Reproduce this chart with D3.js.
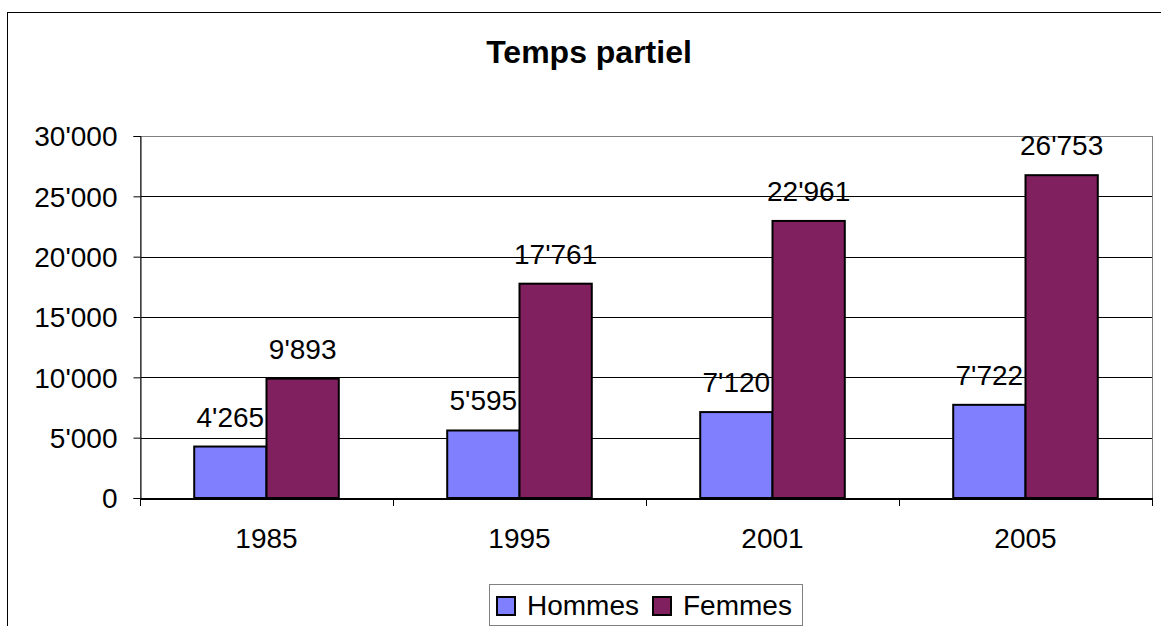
<!DOCTYPE html>
<html>
<head>
<meta charset="utf-8">
<script src="https://cdn.jsdelivr.net/npm/d3@7"></script>
<style>
  body { margin: 0; background: #fff; }
  text { font-family: Arial, "Liberation Sans", sans-serif; fill: #000; }
</style>
</head>
<body>
<div id="chart"></div>
<script>
var years = ["1985", "1995", "2001", "2005"];
var seriesNames = ["Hommes", "Femmes"];
var hommes = [4265, 5595, 7120, 7722];
var femmes = [9893, 17761, 22961, 26753];
var yTicks = [0, 5000, 10000, 15000, 20000, 25000, 30000];
var colors = {Hommes: "#8080ff", Femmes: "#80205e"};

var width = 1161, height = 626;
var plot = {left: 140, right: 1152, top: 136, bottom: 498};

var fr = d3.formatLocale({decimal: ".", thousands: "'", grouping: [3], currency: ["", ""]});
var fmt = fr.format(",");

var svg = d3.select("#chart").append("svg")
  .attr("width", width)
  .attr("height", height);

// outer frame (runs off the right and bottom edges)
svg.append("rect")
  .attr("x", 7.5).attr("y", 12.5)
  .attr("width", 1170).attr("height", 640)
  .attr("fill", "#fff").attr("stroke", "#000").attr("stroke-width", 1);

svg.append("text")
  .attr("x", 589).attr("y", 63)
  .attr("text-anchor", "middle")
  .style("font-size", "32px").style("font-weight", "bold")
  .text("Temps partiel");

var x = d3.scaleBand().domain(years).range([plot.left, plot.right]);
var x1 = d3.scaleBand().domain(seriesNames).range([0, x.bandwidth()])
  .paddingInner(0).paddingOuter(0.75);
var y = d3.scaleLinear().domain([0, 30000]).range([plot.bottom, plot.top]);

// gridlines
svg.append("g").selectAll("line")
  .data(yTicks.filter(function(d){ return d > 0 && d < 30000; }))
  .enter().append("line")
  .attr("x1", plot.left).attr("x2", plot.right)
  .attr("y1", function(d){ return Math.round(y(d)) + 0.5; })
  .attr("y2", function(d){ return Math.round(y(d)) + 0.5; })
  .attr("stroke", "#000").attr("stroke-width", 1);

// plot border
svg.append("rect")
  .attr("x", plot.left + 0.5).attr("y", plot.top + 0.5)
  .attr("width", plot.right - plot.left).attr("height", plot.bottom - plot.top)
  .attr("fill", "none").attr("stroke", "#808080").attr("stroke-width", 1);

var data = years.map(function(yr, i){
  return {year: yr, values: [{name: "Hommes", v: hommes[i]}, {name: "Femmes", v: femmes[i]}]};
});

var groups = svg.append("g").selectAll("g")
  .data(data).enter().append("g")
  .attr("transform", function(d){ return "translate(" + x(d.year) + ",0)"; });

// hommes bars + labels first, femmes drawn over them
seriesNames.forEach(function(name, si){
  groups.append("rect")
    .attr("x", function(d){ return x1(name); })
    .attr("y", function(d){ return y(d.values[si].v); })
    .attr("width", x1.bandwidth())
    .attr("height", function(d){ return y(0) - y(d.values[si].v); })
    .attr("fill", colors[name])
    .attr("stroke", "#000").attr("stroke-width", 2);

  groups.append("text")
    .attr("x", function(d){ return x1(name) + x1.bandwidth() / 2; })
    .attr("y", function(d){ return y(d.values[si].v) - 20; })
    .attr("text-anchor", "middle")
    .style("font-size", "28px")
    .text(function(d){ return fmt(d.values[si].v); });
});

// y axis
var yAxis = d3.axisLeft(y).tickValues(yTicks).tickFormat(fmt).tickSize(7).tickPadding(16);
var gy = svg.append("g")
  .attr("transform", "translate(" + (plot.left + 0.5) + ",0)")
  .call(yAxis);
gy.select(".domain").attr("stroke", "#000");
gy.selectAll(".tick line").attr("stroke", "#000");
gy.selectAll("text").style("font-size", "28px").attr("dy", "0.35em");

// x axis
var xAxis = d3.axisBottom(x).tickSize(0).tickPadding(30);
var gx = svg.append("g")
  .attr("transform", "translate(0," + (plot.bottom + 0.5) + ")")
  .call(xAxis);
gx.select(".domain").attr("stroke", "#000").attr("stroke-width", 2);
gx.selectAll("text").style("font-size", "28px");

svg.append("g").selectAll("line")
  .data(years.concat(["end"]))
  .enter().append("line")
  .attr("x1", function(d, i){ return Math.round(plot.left + i * x.step()) + 0.5; })
  .attr("x2", function(d, i){ return Math.round(plot.left + i * x.step()) + 0.5; })
  .attr("y1", plot.bottom).attr("y2", plot.bottom + 8)
  .attr("stroke", "#000");

// legend
var legend = svg.append("g");
legend.append("rect")
  .attr("x", 489.5).attr("y", 584.5)
  .attr("width", 313).attr("height", 41)
  .attr("fill", "#fff").attr("stroke", "#808080");

var legX = [497, 653];
seriesNames.forEach(function(name, i){
  legend.append("rect")
    .attr("x", legX[i]).attr("y", 597)
    .attr("width", 18).attr("height", 18)
    .attr("fill", colors[name]).attr("stroke", "#000").attr("stroke-width", 2);
  legend.append("text")
    .attr("x", legX[i] + 30).attr("y", 615)
    .style("font-size", "28px")
    .text(name);
});
</script>
</body>
</html>
